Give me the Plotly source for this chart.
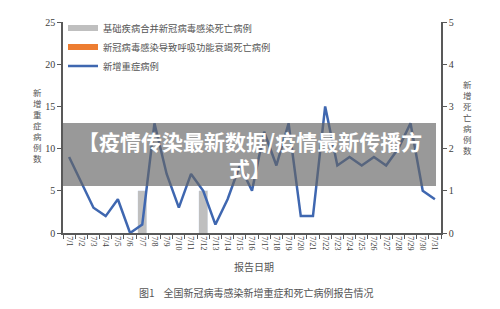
import plotly.graph_objects as go

dates = [f"7/{d}" for d in range(1, 32)]
severe_new = [9, 6, 3, 2, 4, 0, 1, 13, 7, 3, 7, 5, 1, 4, 8, 5, 12, 8, 13, 2, 2, 15, 8, 9, 8, 9, 8, 10, 13, 5, 4]
death_underlying = [0, 0, 0, 0, 0, 0, 1, 0, 0, 0, 0, 1, 0, 0, 0, 0, 0, 0, 0, 0, 0, 0, 0, 0, 0, 0, 0, 0, 0, 0, 0]
death_respiratory = [0] * 31

name_gray = "基础疾病合并新冠病毒感染死亡病例"
name_orange = "新冠病毒感染导致呼吸功能衰竭死亡病例"
name_line = "新增重症病例"

GRAY = "#BFBFBF"
ORANGE = "#ED7D31"
BLUE = "#3F67B0"
AX = "#595959"
TXT = "#404040"

fig = go.Figure()
fig.add_trace(go.Bar(x=dates, y=death_underlying, marker_color=GRAY, yaxis="y",
                     showlegend=False, width=0.76))
fig.add_trace(go.Bar(x=dates, y=death_respiratory, marker_color=ORANGE, yaxis="y",
                     showlegend=False, width=0.76))
fig.add_trace(go.Scatter(x=dates, y=severe_new, mode="lines", yaxis="y2",
                         line=dict(color=BLUE, width=2.5), showlegend=False))
# legend entries
fig.add_trace(go.Scatter(x=[None], y=[None], mode="lines", name=name_gray,
                         line=dict(color=GRAY, width=6)))
fig.add_trace(go.Scatter(x=[None], y=[None], mode="lines", name=name_orange,
                         line=dict(color=ORANGE, width=6)))
fig.add_trace(go.Scatter(x=[None], y=[None], mode="lines", name=name_line,
                         line=dict(color=BLUE, width=2.5)))

fig.update_layout(
    width=500, height=309,
    margin=dict(l=63, r=59, t=22, b=76),
    paper_bgcolor="white", plot_bgcolor="white",
    barmode="stack",
    font=dict(family="Liberation Serif", size=10, color=TXT),
    xaxis=dict(type="category", range=[-0.5, 30.5], showline=True, linecolor=AX, linewidth=1.5,
               ticks="outside", ticklen=4, tickcolor=AX, tickson="boundaries",
               tickangle=90, tickfont=dict(size=8, family="Liberation Serif", color=TXT),
               showgrid=False, zeroline=False),
    yaxis=dict(side="right", range=[0, 5], dtick=1, showline=True, linecolor=AX, linewidth=1.5,
               ticks="outside", ticklen=4, tickcolor=AX, showgrid=False, zeroline=False,
               tickfont=dict(size=10, family="Liberation Serif", color=TXT)),
    yaxis2=dict(side="left", overlaying="y", range=[0, 25], dtick=5, showline=True,
                linecolor=AX, linewidth=1.5, ticks="outside", ticklen=4, tickcolor=AX,
                showgrid=False, zeroline=False,
                tickfont=dict(size=10, family="Liberation Serif", color=TXT)),
    legend=dict(x=0.0, y=1.04, xanchor="left", yanchor="top", bgcolor="rgba(0,0,0,0)",
                font=dict(family="Noto Sans CJK SC", size=9.3, color="#555555"),
                itemwidth=30, tracegroupgap=0, traceorder="normal"),
    showlegend=True,
)

ann_font = dict(family="Noto Sans CJK SC", size=8.5, color="#555555")
fig.add_annotation(text="<br>".join("新增重症病例数"), xref="paper", yref="paper",
                   x=(37 - 63) / 378, y=(233 - 125) / 211, xanchor="center", yanchor="middle",
                   showarrow=False, font=ann_font)
fig.add_annotation(text="<br>".join("新增死亡病例数"), xref="paper", yref="paper",
                   x=(467 - 63) / 378, y=(233 - 117) / 211, xanchor="center", yanchor="middle",
                   showarrow=False, font=ann_font)
fig.add_annotation(text="报告日期", xref="paper", yref="paper",
                   x=(254 - 63) / 378, y=(233 - 266) / 211, xanchor="center", yanchor="middle",
                   showarrow=False, font=dict(family="Noto Sans CJK SC", size=10, color="#555555"))
fig.add_annotation(text="图1    全国新冠病毒感染新增重症和死亡病例报告情况", xref="paper", yref="paper",
                   x=(137 - 63) / 378, y=(233 - 292) / 211, xanchor="left", yanchor="middle",
                   showarrow=False, font=dict(family="Noto Sans CJK SC", size=10, color="#555555"))

# banner overlay
fig.add_shape(type="rect", xref="paper", yref="paper", x0=0, x1=(436 - 63) / 378,
              y0=(233 - 186) / 211, y1=(233 - 123) / 211, fillcolor="rgba(100,100,100,0.66)",
              line=dict(width=0), layer="above")
banner_font = dict(family="Noto Sans CJK SC", size=21, color="white")
fig.add_annotation(text="<b>【疫情传染最新数据/疫情最新传播方<br>式】</b>", xref="paper", yref="paper",
                   x=(250 - 63) / 378, y=(233 - 154) / 211, xanchor="center", yanchor="middle",
                   align="center", showarrow=False, font=banner_font)

fig.write_html("out.html")
